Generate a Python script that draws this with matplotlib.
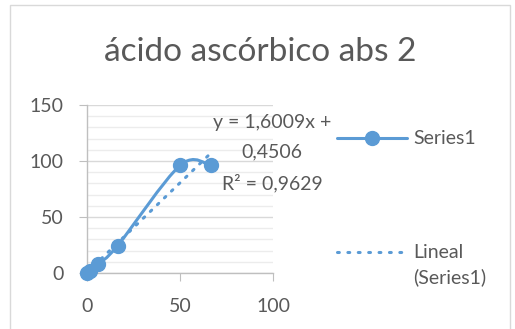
import matplotlib
matplotlib.use("Agg")
import matplotlib.pyplot as plt
from matplotlib.path import Path
from matplotlib.patches import PathPatch, Rectangle
from matplotlib.lines import Line2D
import numpy as np

# Data
conc = [0, 1.5, 6, 16.5, 50, 66.5]
absorb = [0, 2, 8, 24.5, 96, 96]
slope = 1.6009
intercept = 0.4506
r2 = 0.9629
title = "ácido ascórbico abs 2"
series_name = "Series1"
trend_name = "Lineal\n(Series1)"
x_ticks = [0, 50, 100]
y_ticks = [0, 50, 100, 150]

BLUE = "#5b9bd5"
TXT = "#595959"
FONT = "Lato"

W, H = 515, 329
fig = plt.figure(figsize=(W / 100, H / 100), dpi=100)
fig.patch.set_facecolor("white")

# chart border
fig.add_artist(Rectangle((10 / W, -0.05), 500 / W, 1 - 5 / H + 0.05,
                         transform=fig.transFigure, fill=False,
                         edgecolor="#d9d9d9", linewidth=1.0))

ax = fig.add_axes([87 / W, 1 - 273 / H, (273 - 87) / W, (273 - 105) / H])
ax.set_xlim(0, 100)
ax.set_ylim(0, 150)
ax.set_xticks(x_ticks)
ax.set_yticks(y_ticks)
ax.set_yticks(np.arange(0, 151, 10), minor=True)
ax.yaxis.grid(True, which="major", color="#d9d9d9", linewidth=1.0)
ax.yaxis.grid(True, which="minor", color="#ececec", linewidth=1.0)
ax.set_axisbelow(True)
for s in ["top", "right"]:
    ax.spines[s].set_visible(False)
for s in ["left", "bottom"]:
    ax.spines[s].set_color("#bfbfbf")
    ax.spines[s].set_linewidth(1.0)
ax.tick_params(axis="both", which="major", direction="out", length=6,
               color="#bfbfbf", labelcolor=TXT, labelsize=14)
ax.tick_params(axis="x", pad=12)
ax.tick_params(axis="y", pad=11)
ax.tick_params(axis="both", which="minor", length=0)
for lab in ax.get_xticklabels() + ax.get_yticklabels():
    lab.set_fontfamily(FONT)

# smoothed series line (Catmull-Rom style Bezier segments)
pts = np.column_stack([conc, absorb]).astype(float)
n = len(pts)
verts = [pts[0]]
codes = [Path.MOVETO]
for i in range(n - 1):
    p_prev = pts[i - 1] if i > 0 else pts[i]
    p0, p1 = pts[i], pts[i + 1]
    p_next = pts[i + 2] if i + 2 < n else pts[i + 1]
    c1 = p0 + (p1 - p_prev) / 6.0
    c2 = p1 - (p_next - p0) / 6.0
    verts += [c1, c2, p1]
    codes += [Path.CURVE4] * 3
ax.add_patch(PathPatch(Path(verts, codes), facecolor="none", edgecolor=BLUE,
                       linewidth=2.2, capstyle="round", joinstyle="round",
                       zorder=3))
ax.plot(conc, absorb, linestyle="none", marker="o", markersize=10,
        color=BLUE, zorder=4, clip_on=False)

# linear trendline
tx = np.array([min(conc), max(conc)])
ax.plot(tx, slope * tx + intercept, linestyle=(0, (0.6, 2.6)), color=BLUE,
        linewidth=2.2, dash_capstyle="round", zorder=2)

# equation label
eq = f"y = {slope:.4f}x +\n{intercept:.4f}\nR² = {r2:.4f}".replace(".", ",")
fig.text(272 / W, 1 - 153 / H, eq, ha="center", va="center", fontsize=14,
         color=TXT, family=FONT, linespacing=1.85)

# title
fig.text(260 / W, 1 - 52 / H, title, ha="center", va="center", fontsize=24,
         color=TXT, family=FONT)

# legend
def px(x, y):
    return x / W, 1 - y / H

lx0, lx1 = 337, 407
x_a, y_a = px(lx0, 138)
x_b, _ = px(lx1, 138)
fig.add_artist(Line2D([x_a, x_b], [y_a, y_a], transform=fig.transFigure,
                      color=BLUE, linewidth=2.2, solid_capstyle="round"))
fig.add_artist(Line2D([(x_a + x_b) / 2], [y_a], transform=fig.transFigure,
                      color=BLUE, marker="o", markersize=10, linestyle="none"))
fig.text(413 / W, y_a, series_name, ha="left", va="center", fontsize=14,
         color=TXT, family=FONT)
x_a, y_b = px(lx0, 252)
fig.add_artist(Line2D([x_a, x_b], [y_b, y_b], transform=fig.transFigure,
                      color=BLUE, linewidth=2.2, linestyle=(0, (0.6, 2.8)),
                      dash_capstyle="round"))
fig.text(413 / W, 1 - 265 / H, trend_name, ha="left", va="center",
         fontsize=14, color=TXT, family=FONT, linespacing=1.5)

fig.savefig("out.png", dpi=100)
